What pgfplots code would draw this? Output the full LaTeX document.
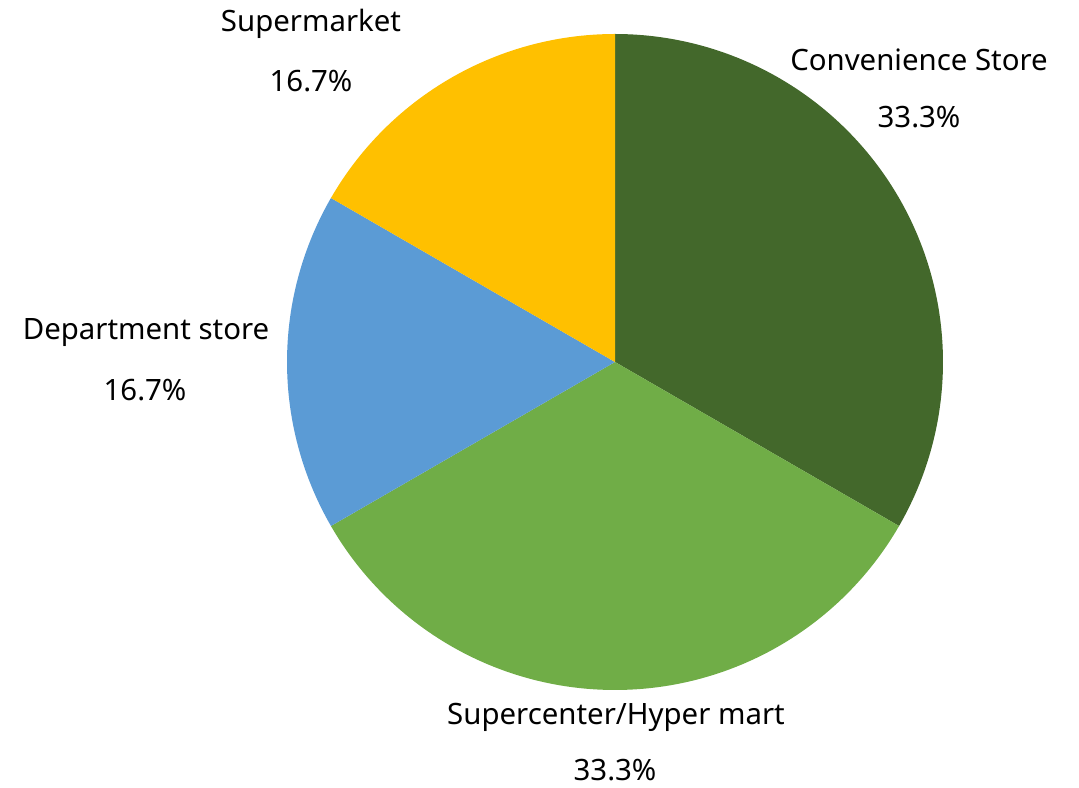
\documentclass[border=0pt]{standalone}
\usepackage{fontspec}
\setmainfont{Noto Sans}
\usepackage{pgfplots}
\pgfplotsset{compat=1.18}
\definecolor{cconv}{HTML}{43682B}
\definecolor{csuper}{HTML}{70AD47}
\definecolor{cdept}{HTML}{5B9BD5}
\definecolor{cmkt}{HTML}{FFC000}
\begin{document}
\begin{tikzpicture}[lbl/.style={font=\fontsize{29.5}{35}\selectfont, text=black, inner sep=0pt}]
\begin{axis}[
  scale only axis, width=1079bp, height=787bp,
  xmin=0, xmax=1079, ymin=0, ymax=787,
  axis line style={draw=none}, xtick=\empty, ytick=\empty,
  clip=false,
]
% shares (percent): Convenience 33.3, Supercenter 33.3, Department 16.7, Supermarket 16.7
% angles start at 90 deg, clockwise
\addplot[fill=cconv, draw=none, domain=-30:90, samples=120, variable=\t]
  ({615+328*cos(t)},{425+328*sin(t)}) -- (axis cs:615,425) -- cycle;
\addplot[fill=csuper, draw=none, domain=-150:-30, samples=120, variable=\t]
  ({615+328*cos(t)},{425+328*sin(t)}) -- (axis cs:615,425) -- cycle;
\addplot[fill=cdept, draw=none, domain=150:210, samples=60, variable=\t]
  ({615+328*cos(t)},{425+328*sin(t)}) -- (axis cs:615,425) -- cycle;
\addplot[fill=cmkt, draw=none, domain=90:150, samples=60, variable=\t]
  ({615+328*cos(t)},{425+328*sin(t)}) -- (axis cs:615,425) -- cycle;
\node[lbl] at (axis cs:919,727) {Convenience Store};
\node[lbl] at (axis cs:919,670) {33.3\%};
\node[lbl] at (axis cs:616,70) {Supercenter/Hyper mart};
\node[lbl] at (axis cs:615,17) {33.3\%};
\node[lbl] at (axis cs:146,454) {Department store};
\node[lbl] at (axis cs:145,397) {16.7\%};
\node[lbl] at (axis cs:311,763) {Supermarket};
\node[lbl] at (axis cs:311,706) {16.7\%};
\end{axis}
\end{tikzpicture}
\end{document}
